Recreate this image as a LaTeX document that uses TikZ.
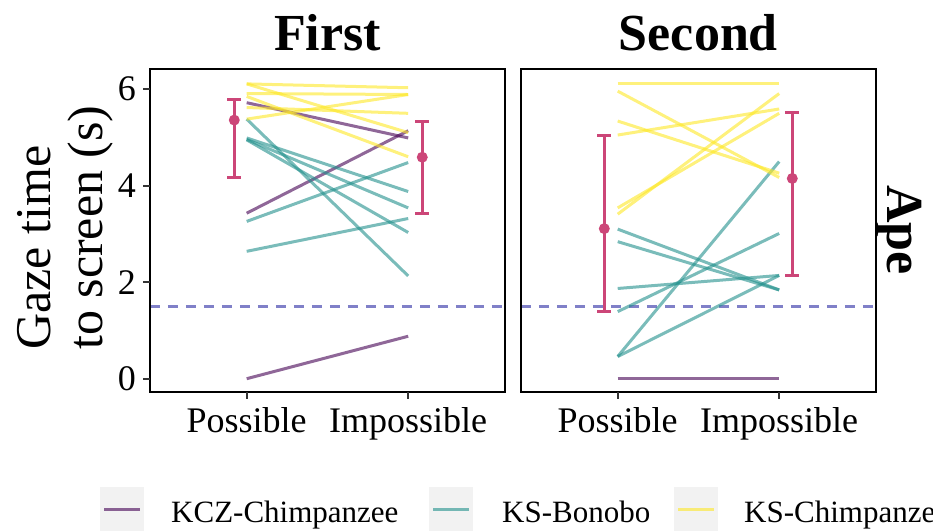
\documentclass[tikz,border=0pt]{standalone}
\usepackage{fontspec}
\setmainfont{Liberation Serif}
\usepackage{xcolor}
\usepackage{tikz}
\usetikzlibrary{positioning}

\definecolor{kczpurple}{HTML}{440154}
\definecolor{bonoboteal}{HTML}{21908C}
\definecolor{chimpyellow}{HTML}{FDE725}
\definecolor{meanpink}{RGB}{204,70,120}
\definecolor{chanceblue}{RGB}{128,128,200}
\definecolor{keygrey}{gray}{0.95}

\begin{document}
\begin{tikzpicture}[
			x = 1pt, y = 1pt,
			every node/.style = {inner sep = 0pt},
			kcz/.style = {line width = 3pt, draw = kczpurple, opacity = 0.6},
			bonobo/.style = {line width = 3pt, draw = bonoboteal, opacity = 0.6},
			kschimp/.style = {line width = 3pt, draw = chimpyellow, opacity = 0.6},
			errbar/.style = {line width = 3pt, draw = meanpink},
			chance/.style = {line width = 2.5pt, draw = chanceblue, dash pattern = on 10pt off 8pt},
			tickmark/.style = {line width = 2pt, draw = black!80},
			ticklab/.style = {font = \fontsize{36}{40}\selectfont},
			striplab/.style = {font = \fontsize{52}{60}\selectfont\bfseries},
			axislab/.style = {font = \fontsize{50}{52}\selectfont, rotate = 90, anchor = base west},
			legtext/.style = {font = \fontsize{31}{36}\selectfont, anchor = base west},
			keybox/.style = {fill = keygrey, minimum size = 44pt}
		]
		\useasboundingbox (0,0) rectangle (933,531);

		% panel First
		\begin{scope}[x = 161.5pt, y = 48.25pt, shift = {(85.2pt,152.3pt)}]
			\draw[chance] (0.4,1.5) -- (2.6,1.5);
			\foreach \a/\b in {5.72/4.99, 3.43/5.14, 0/0.88}
				\draw[kcz] (1,\a) -- (2,\b);
			\foreach \a/\b in {5.38/2.13, 4.99/3.88, 4.96/3.54, 4.95/3.03, 3.26/4.48, 2.64/3.32}
				\draw[bonobo] (1,\a) -- (2,\b);
			\foreach \a/\b in {6.11/6.03, 5.91/5.89, 5.38/5.89, 5.62/5.50, 6.11/5.10, 5.85/4.60}
				\draw[kschimp] (1,\a) -- (2,\b);
			\foreach \x/\m/\lo/\hi in {0.923/5.36/4.17/5.78, 2.087/4.59/3.43/5.33}{
				\draw[errbar] (\x,\lo) -- (\x,\hi)
					(\x,\lo) ++(-7pt,0) -- ++(14pt,0)
					(\x,\hi) ++(-7pt,0) -- ++(14pt,0);
				\fill[meanpink] (\x,\m) circle (5.5pt);
			}
			\draw[line width = 1.5pt] (0.4,-0.28) rectangle (2.6,6.42);
			\foreach \v in {0,2,4,6}
				\draw[tickmark] (0.4,\v) -- ++(-7pt,0) node[ticklab, left, inner sep = 6pt] (y\v) {\v};
			\draw[tickmark] (1,-0.28) -- ++(0,-7pt);
			\draw[tickmark] (2,-0.28) -- ++(0,-7pt);
			\node[ticklab, anchor = base] (pos1) at (1,-1.125) {Possible};
			\node[ticklab, anchor = base] (imp1) at (2,-1.125) {Impossible};
		\end{scope}

		% panel Second
		\begin{scope}[x = 161.5pt, y = 48.25pt, shift = {(456.2pt,152.3pt)}]
			\draw[chance] (0.4,1.5) -- (2.6,1.5);
			\draw[kcz] (1,0) -- (2,0);
			\foreach \a/\b in {3.10/1.84, 2.84/1.84, 1.87/2.14, 1.39/3.01, 0.46/4.50, 0.46/2.14}
				\draw[bonobo] (1,\a) -- (2,\b);
			\foreach \a/\b in {6.11/6.11, 5.96/4.17, 5.34/4.26, 5.05/5.59, 3.54/5.50, 3.41/5.91}
				\draw[kschimp] (1,\a) -- (2,\b);
			\foreach \x/\m/\lo/\hi in {0.917/3.11/1.39/5.05, 2.081/4.15/2.13/5.51}{
				\draw[errbar] (\x,\lo) -- (\x,\hi)
					(\x,\lo) ++(-7pt,0) -- ++(14pt,0)
					(\x,\hi) ++(-7pt,0) -- ++(14pt,0);
				\fill[meanpink] (\x,\m) circle (5.5pt);
			}
			\draw[line width = 1.5pt] (0.4,-0.28) rectangle (2.6,6.42);
			\draw[tickmark] (1,-0.28) -- ++(0,-7pt);
			\draw[tickmark] (2,-0.28) -- ++(0,-7pt);
			\node[ticklab, anchor = base] (pos2) at (1,-1.125) {Possible};
			\node[ticklab, anchor = base] (imp2) at (2,-1.125) {Impossible};
		\end{scope}

		\node[striplab, anchor = base] (first) at (327.5,480) {First};
		\node[striplab, anchor = base] (second) at (698.4,480) {Second};
		\node[striplab, anchor = base, rotate = -90] (ape) at (887,301) {Ape};

		\node[axislab] (gaze) at (50,181) {Gaze time};
		\node[axislab] (screen) at (102,181) {to screen (s)};

		% legend
		\node[keybox] (kkcz) at (122,22) {};
		\node[keybox] (kbon) at (451,22) {};
		\node[keybox] (kchi) at (696,22) {};
		\draw[kcz] ([xshift = 4.4pt]kkcz.west) -- ([xshift = -4.4pt]kkcz.east);
		\draw[bonobo] ([xshift = 4.4pt]kbon.west) -- ([xshift = -4.4pt]kbon.east);
		\draw[kschimp] ([xshift = 4.4pt]kchi.west) -- ([xshift = -4.4pt]kchi.east);
		\node[legtext] (lkcz) at (171,9) {KCZ-Chimpanzee};
		\node[legtext] (lbon) at (502,9) {KS-Bonobo};
		\node[legtext] (lchi) at (744,9) {KS-Chimpanzee};

		\end{tikzpicture}
\end{document}
